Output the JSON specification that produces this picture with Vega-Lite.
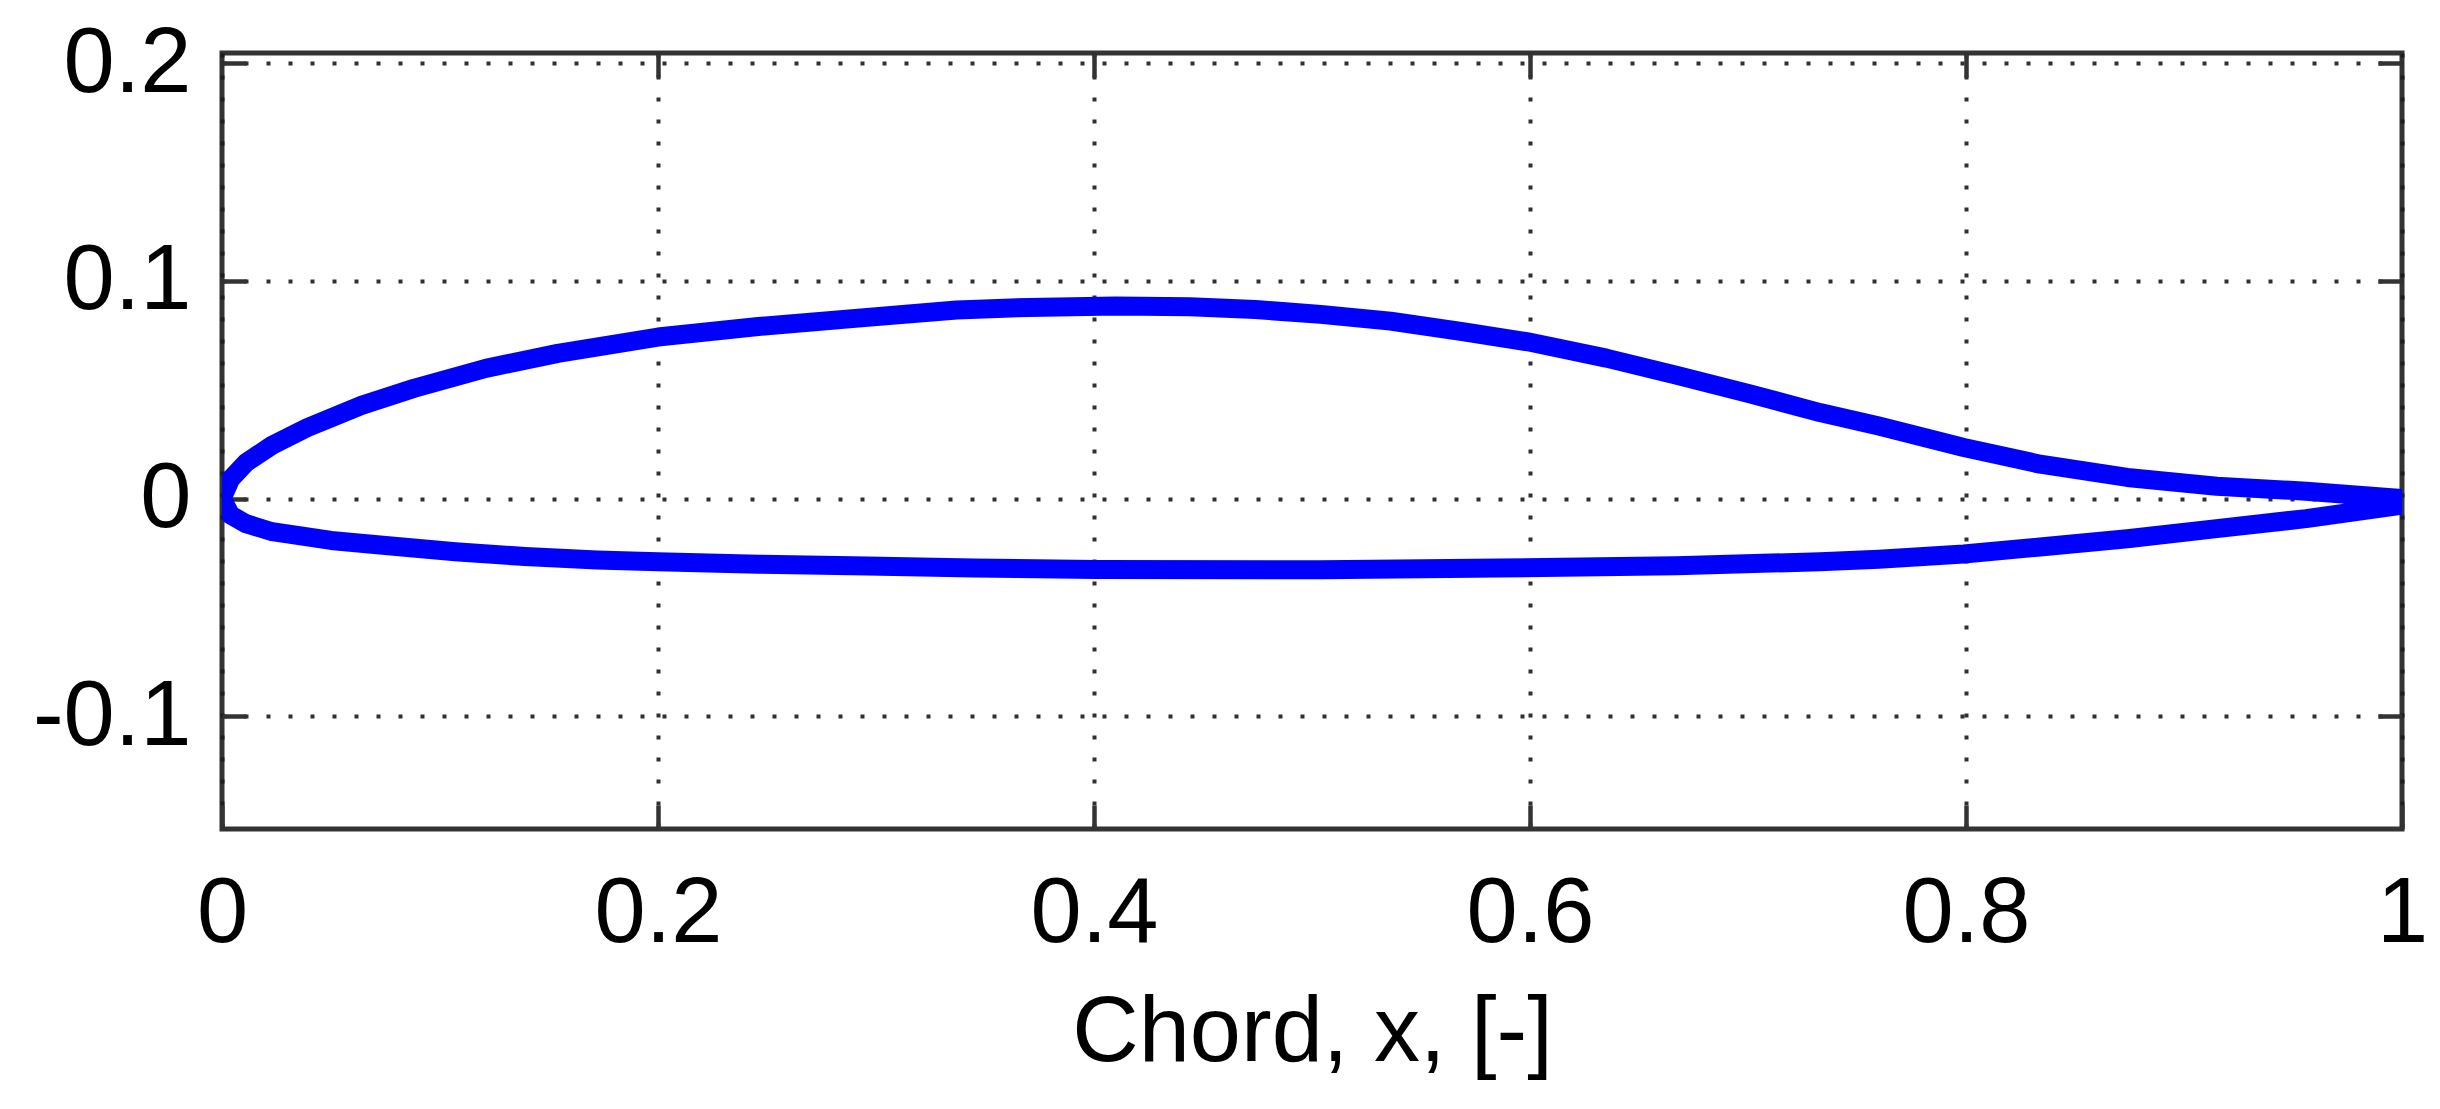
{
  "$schema": "https://vega.github.io/schema/vega-lite/v6.json",
  "width": 2180,
  "height": 776,
  "autosize": {"type": "none"},
  "padding": {"left": 222, "top": 53, "right": 38, "bottom": 280},
  "background": "white",
  "data": {
    "values": [
      {"i": 1, "surface": "upper", "x": 1.0, "y": 0.0},
      {"i": 2, "surface": "upper", "x": 0.956, "y": 0.0034},
      {"i": 3, "surface": "upper", "x": 0.915, "y": 0.0057},
      {"i": 4, "surface": "upper", "x": 0.874, "y": 0.0097},
      {"i": 5, "surface": "upper", "x": 0.834, "y": 0.0158},
      {"i": 6, "surface": "upper", "x": 0.799, "y": 0.0235},
      {"i": 7, "surface": "upper", "x": 0.76, "y": 0.0333},
      {"i": 8, "surface": "upper", "x": 0.733, "y": 0.0395},
      {"i": 9, "surface": "upper", "x": 0.7, "y": 0.0483},
      {"i": 10, "surface": "upper", "x": 0.667, "y": 0.0567},
      {"i": 11, "surface": "upper", "x": 0.635, "y": 0.0645},
      {"i": 12, "surface": "upper", "x": 0.599, "y": 0.072},
      {"i": 13, "surface": "upper", "x": 0.569, "y": 0.0767},
      {"i": 14, "surface": "upper", "x": 0.536, "y": 0.0815},
      {"i": 15, "surface": "upper", "x": 0.504, "y": 0.0846},
      {"i": 16, "surface": "upper", "x": 0.474, "y": 0.0868},
      {"i": 17, "surface": "upper", "x": 0.444, "y": 0.0881},
      {"i": 18, "surface": "upper", "x": 0.41, "y": 0.0884},
      {"i": 19, "surface": "upper", "x": 0.37, "y": 0.0878},
      {"i": 20, "surface": "upper", "x": 0.337, "y": 0.0866},
      {"i": 21, "surface": "upper", "x": 0.296, "y": 0.0832},
      {"i": 22, "surface": "upper", "x": 0.246, "y": 0.079},
      {"i": 23, "surface": "upper", "x": 0.2, "y": 0.0742},
      {"i": 24, "surface": "upper", "x": 0.154, "y": 0.0667},
      {"i": 25, "surface": "upper", "x": 0.121, "y": 0.0598},
      {"i": 26, "surface": "upper", "x": 0.088, "y": 0.0506},
      {"i": 27, "surface": "upper", "x": 0.064, "y": 0.0428},
      {"i": 28, "surface": "upper", "x": 0.039, "y": 0.0325},
      {"i": 29, "surface": "upper", "x": 0.023, "y": 0.0245},
      {"i": 30, "surface": "upper", "x": 0.011, "y": 0.0165},
      {"i": 31, "surface": "upper", "x": 0.004, "y": 0.009},
      {"i": 32, "surface": "upper", "x": 0.0, "y": 0.0},
      {"i": 33, "surface": "lower", "x": 0.004, "y": -0.0075},
      {"i": 34, "surface": "lower", "x": 0.011, "y": -0.0115},
      {"i": 35, "surface": "lower", "x": 0.023, "y": -0.0152},
      {"i": 36, "surface": "lower", "x": 0.05, "y": -0.0192},
      {"i": 37, "surface": "lower", "x": 0.075, "y": -0.0215},
      {"i": 38, "surface": "lower", "x": 0.107, "y": -0.0244},
      {"i": 39, "surface": "lower", "x": 0.139, "y": -0.0266},
      {"i": 40, "surface": "lower", "x": 0.172, "y": -0.0282},
      {"i": 41, "surface": "lower", "x": 0.2, "y": -0.029},
      {"i": 42, "surface": "lower", "x": 0.246, "y": -0.0301},
      {"i": 43, "surface": "lower", "x": 0.296, "y": -0.031},
      {"i": 44, "surface": "lower", "x": 0.345, "y": -0.0319},
      {"i": 45, "surface": "lower", "x": 0.401, "y": -0.0325},
      {"i": 46, "surface": "lower", "x": 0.504, "y": -0.0327},
      {"i": 47, "surface": "lower", "x": 0.586, "y": -0.0319},
      {"i": 48, "surface": "lower", "x": 0.667, "y": -0.0308},
      {"i": 49, "surface": "lower", "x": 0.733, "y": -0.029},
      {"i": 50, "surface": "lower", "x": 0.76, "y": -0.0278},
      {"i": 51, "surface": "lower", "x": 0.799, "y": -0.0254},
      {"i": 52, "surface": "lower", "x": 0.834, "y": -0.0222},
      {"i": 53, "surface": "lower", "x": 0.874, "y": -0.0184},
      {"i": 54, "surface": "lower", "x": 0.915, "y": -0.0138},
      {"i": 55, "surface": "lower", "x": 0.956, "y": -0.0092},
      {"i": 56, "surface": "lower", "x": 1.0, "y": -0.003}
    ]
  },
  "layer": [
    {
      "mark": {
        "type": "line",
        "color": "#0000ff",
        "strokeWidth": 19,
        "strokeCap": "round",
        "strokeJoin": "round",
        "clip": true
      },
      "encoding": {
        "x": {
          "field": "x",
          "type": "quantitative",
          "scale": {"domain": [0, 1], "nice": false, "zero": false},
          "axis": {
            "orient": "bottom",
            "values": [0, 0.2, 0.4, 0.6, 0.8, 1],
            "labelExpr": "'' + datum.value",
            "labelFlush": false,
            "title": "Chord, x, [-]",
            "titleX": 1090,
            "titleY": 231,
            "titleBaseline": "alphabetic",
            "titleAlign": "center",
            "labelPadding": 63,
            "grid": true
          }
        },
        "y": {
          "field": "y",
          "type": "quantitative",
          "scale": {"domain": [-0.1517, 0.2046], "nice": false, "zero": false},
          "axis": {
            "orient": "left",
            "values": [-0.1, 0, 0.1, 0.2],
            "labelExpr": "'' + datum.value",
            "labelFlush": false,
            "title": null,
            "labelPadding": 55,
            "labelBaseline": "middle",
            "grid": true
          }
        },
        "order": {"field": "i", "type": "quantitative"}
      }
    },
    {
      "mark": {"type": "point", "opacity": 0},
      "encoding": {
        "x": {
          "field": "x",
          "type": "quantitative",
          "axis": {
            "orient": "top",
            "values": [0.2, 0.4, 0.6, 0.8],
            "labels": false,
            "title": null,
            "grid": false
          }
        },
        "y": {
          "field": "y",
          "type": "quantitative",
          "axis": {
            "orient": "right",
            "values": [-0.1, 0, 0.1, 0.2],
            "labels": false,
            "title": null,
            "grid": false
          }
        }
      }
    }
  ],
  "resolve": {"axis": {"x": "independent", "y": "independent"}},
  "config": {
    "view": {"stroke": "#333333", "strokeWidth": 5},
    "axis": {
      "domain": false,
      "ticks": true,
      "tickSize": -24,
      "tickWidth": 4.5,
      "tickColor": "#333333",
      "gridColor": "#1a1a1a",
      "gridDash": [4, 18],
      "gridWidth": 4,
      "gridOpacity": 0.9,
      "labelFont": "Liberation Sans",
      "labelFontSize": 92,
      "labelColor": "#000000",
      "titleFont": "Liberation Sans",
      "titleFontSize": 92,
      "titleFontWeight": "normal",
      "titleColor": "#000000"
    }
  }
}
